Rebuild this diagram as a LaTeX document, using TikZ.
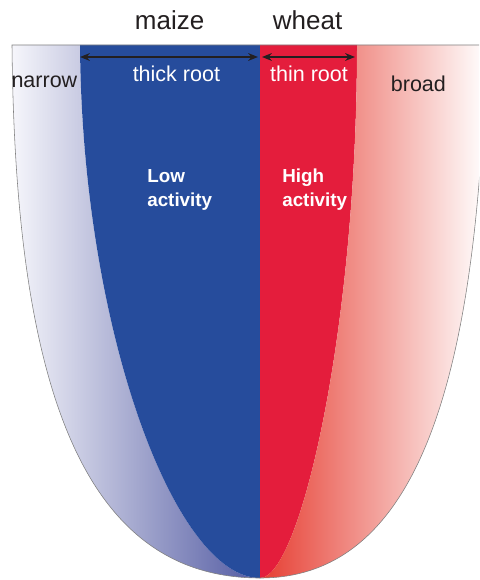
\documentclass[tikz,border=0pt]{standalone}
\usepackage{fontspec}
\usetikzlibrary{arrows.meta}
\setmainfont{Liberation Sans}
\definecolor{rootblue}{RGB}{38,76,156}
\definecolor{rootred}{RGB}{228,29,60}
\definecolor{paleblue}{RGB}{246,246,251}
\definecolor{greyblue}{RGB}{82,90,162}
\definecolor{orangered}{RGB}{230,62,50}
\definecolor{inkgrey}{RGB}{35,31,32}
\tikzset{
	species/.style={font=\fontsize{18.5}{22}\selectfont,text=inkgrey,anchor=base,inner sep=0pt},
	width label/.style={font=\fontsize{15.3}{18}\selectfont,anchor=base,inner sep=0pt},
	activity/.style={font=\fontsize{13.4}{16.4}\selectfont\bfseries,text=white,align=left,anchor=base west,inner sep=0pt}
}
\begin{document}
\begin{tikzpicture}[>={Stealth[length=7pt,width=5.5pt]}]
	  \useasboundingbox (0,0) rectangle (11.975,-14.5);
	  \clip (0,0) rectangle (11.975,-14.5);
	  \shade[left color=paleblue,right color=greyblue] (0.3,-1.125) .. controls (0.375,-9.5) and (2.0,-14.45) .. (6.5,-14.45) .. controls (4.375,-14.45) and (2.05,-8.25) .. (2.0,-1.125) -- cycle;
	  \fill[rootblue] (2.0,-1.125) .. controls (2.05,-8.25) and (4.375,-14.45) .. (6.5,-14.45) -- (6.5,-1.125) -- cycle;
	  \fill[rootred] (6.5,-1.125) -- (6.5,-14.45) .. controls (7.5,-14.45) and (8.925,-8.25) .. (8.925,-1.125) -- cycle;
	  \shade[left color=orangered,right color=white] (8.925,-1.125) .. controls (8.925,-8.25) and (7.5,-14.45) .. (6.5,-14.45) .. controls (10.45,-14.45) and (11.95,-9.5) .. (12.15,-1.125) -- cycle;
	  \draw[gray,line width=0.4pt] (0.3,-1.125) .. controls (0.375,-9.5) and (2.0,-14.45) .. (6.5,-14.45) .. controls (10.45,-14.45) and (11.95,-9.5) .. (12.15,-1.125) -- cycle;
	  \coordinate (a1) at (2.0,-1.425);
	  \coordinate (a2) at (6.45,-1.425);
	  \coordinate (a3) at (6.55,-1.425);
	  \coordinate (a4) at (8.875,-1.425);
	  \draw[<->,inkgrey,line width=0.9pt] (a1) -- (a2);
	  \draw[<->,inkgrey,line width=0.9pt] (a3) -- (a4);
	  \node[species] (maize) at (4.24,-0.75) {maize};
	  \node[species] (wheat) at (7.69,-0.75) {wheat};
	  \node[width label,text=inkgrey] (narrow) at (1.11,-2.2) {narrow};
	  \node[width label,text=white] (thick) at (4.41,-2.05) {thick root};
	  \node[width label,text=white] (thin) at (7.725,-2.05) {thin root};
	  \node[width label,text=inkgrey] (broad) at (10.46,-2.3) {broad};
	  \node[activity] (low) at (3.675,-5.15) {Low\\activity};
	  \node[activity] (high) at (7.05,-5.15) {High\\activity};
	\end{tikzpicture}
\end{document}
